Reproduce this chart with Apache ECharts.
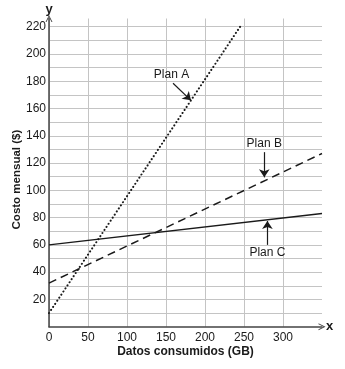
<!DOCTYPE html>
<html>
<head>
<meta charset="utf-8">
<script src="https://cdn.jsdelivr.net/npm/echarts@6/dist/echarts.min.js"></script>
<style>html,body{margin:0;padding:0;background:#fff}#c{width:345px;height:369px}</style>
</head>
<body>
<div id="c"></div>
<script>
// ---- data ----
const xTickLabels = [0, 50, 100, 150, 200, 250, 300];
const yTickLabels = [20, 40, 60, 80, 100, 120, 140, 160, 180, 200, 220];
const planA = [[0, 10], [245, 220]];
const planB = [[0, 32], [350, 127]];
const planC = [[0, 60], [350, 83]];
const seriesNames = ['Plan A', 'Plan B', 'Plan C'];
const xTitle = 'Datos consumidos (GB)';
const yTitle = 'Costo mensual ($)';

const ink = '#1a1a1a';
const chevron = 'path://M0,10 L5,0 L10,10 L8.6,10 L5,2.8 L1.4,10 Z';

function annot(from, to) {
  return {
    markLine: {
      silent: true, animation: false,
      symbol: ['none', 'arrow'], symbolSize: 8,
      lineStyle: { color: ink, width: 1.2, type: 'solid' },
      label: { show: false },
      data: [[{ coord: from }, { coord: to }]]
    }
  };
}
function tag(text, coord) {
  return {
    markPoint: { symbol: 'circle', symbolSize: 0, silent: true,
      label: { show: true, position: 'inside', formatter: text, fontFamily: 'Liberation Sans', fontSize: 12, color: ink },
      data: [{ coord: coord }] }
  };
}

const chart = echarts.init(document.getElementById('c'), null, { renderer: 'canvas' });
chart.setOption({
  animation: false,
  backgroundColor: '#fff',
  grid: { left: 49, right: 23, top: 18.5, bottom: 42.3, containLabel: false, outerBoundsMode: 'none' },
  xAxis: [{
    type: 'value', min: 0, max: 350, interval: 50,
    name: xTitle, nameLocation: 'middle', nameGap: 19, nameMoveOverlap: false,
    nameTextStyle: { fontFamily: 'Liberation Sans', fontWeight: 'bold', fontSize: 12, color: ink },
    axisLine: { show: true, lineStyle: { color: '#444', width: 1.5 }, symbol: ['none', chevron], symbolSize: [9, 7] },
    axisTick: { show: false },
    axisLabel: { fontFamily: 'Liberation Sans', fontSize: 12, color: ink, margin: 5,
      formatter: v => xTickLabels.indexOf(v) >= 0 ? String(v) : '' },
    splitLine: { show: true, showMaxLine: false, lineStyle: { color: '#c4c4c4', width: 1 } }
  }, {
    type: 'value', min: 0, max: 350, position: 'bottom',
    name: 'x', nameLocation: 'end', nameGap: 4,
    nameTextStyle: { fontFamily: 'Liberation Sans', fontWeight: 'bold', fontSize: 13, color: ink },
    axisLine: { show: false }, axisTick: { show: false }, axisLabel: { show: false }, splitLine: { show: false }
  }],
  yAxis: [{
    type: 'value', min: 0, max: 226, interval: 10,
    name: yTitle, nameLocation: 'middle', nameGap: 26, nameRotate: 90, nameMoveOverlap: false,
    nameTextStyle: { fontFamily: 'Liberation Sans', fontWeight: 'bold', fontSize: 11.5, color: ink, padding: [0, 14, 0, 0] },
    axisLine: { show: true, lineStyle: { color: '#444', width: 1.5 }, symbol: ['none', chevron], symbolSize: [9, 7] },
    axisTick: { show: false },
    axisLabel: { fontFamily: 'Liberation Sans', fontSize: 12, color: ink, margin: 3,
      formatter: v => yTickLabels.indexOf(v) >= 0 ? String(v) : '' },
    splitLine: { show: true, showMinLine: false, showMaxLine: false, lineStyle: { color: '#c4c4c4', width: 1 } }
  }, {
    type: 'value', min: 0, max: 226, position: 'left',
    name: 'y', nameLocation: 'end', nameGap: 3,
    nameTextStyle: { fontFamily: 'Liberation Sans', fontWeight: 'bold', fontSize: 13, color: ink, align: 'center' },
    axisLine: { show: false }, axisTick: { show: false }, axisLabel: { show: false }, splitLine: { show: false }
  }],
  series: [
    Object.assign({
      name: seriesNames[0], type: 'line', data: planA, showSymbol: false, clip: false,
      lineStyle: { color: ink, width: 2, type: [0.1, 3.6], cap: 'round' }
    }, tag(seriesNames[0], [157, 184.5]), annot([159, 178.5], [182, 166])),
    Object.assign({
      name: seriesNames[1], type: 'line', data: planB, showSymbol: false,
      lineStyle: { color: ink, width: 1.5, type: [8, 5] }
    }, tag(seriesNames[1], [276, 134.5]), annot([276, 128], [276, 109.5])),
    Object.assign({
      name: seriesNames[2], type: 'line', data: planC, showSymbol: false,
      lineStyle: { color: ink, width: 1.5, type: 'solid' }
    }, tag(seriesNames[2], [280, 54]), annot([280, 60], [280, 77.5]))
  ]
});
</script>
</body>
</html>
